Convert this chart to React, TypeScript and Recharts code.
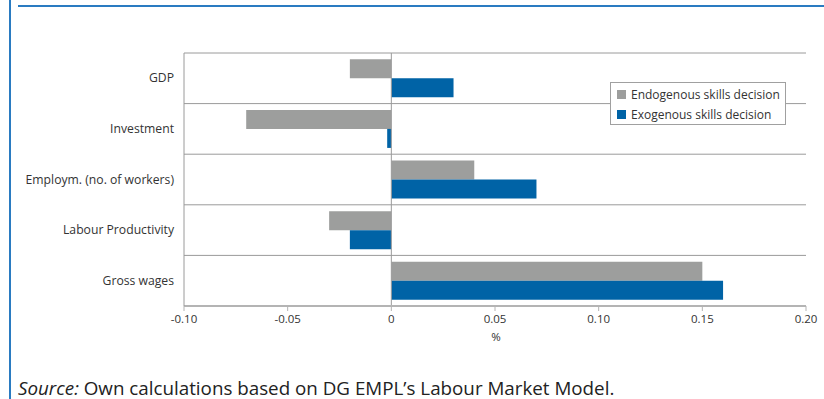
import React from "react";
import {
  BarChart,
  Bar,
  XAxis,
  YAxis,
  CartesianGrid,
  ReferenceLine,
  Legend,
} from "recharts";

const categories = [
  "GDP",
  "Investment",
  "Employm. (no. of workers)",
  "Labour Productivity",
  "Gross wages",
];
const endogenous = [-0.02, -0.07, 0.04, -0.03, 0.15];
const exogenous = [0.03, -0.002, 0.07, -0.02, 0.16];
const xTicks = [-0.1, -0.05, 0, 0.05, 0.1, 0.15, 0.2];
const xTickLabels = ["-0.10", "-0.05", "0", "0.05", "0.10", "0.15", "0.20"];

const seriesNames = ["Endogenous skills decision", "Exogenous skills decision"];
const GREY = "#9d9e9d";
const BLUE = "#0063a6";
const FONT = "'Open Sans', sans-serif";

const data = categories.map((c, i) => ({
  name: c,
  endo: endogenous[i],
  exo: exogenous[i],
}));

// grid lines sit on the boundaries between category bands
const categoryBoundaries = ({ offset }: any) =>
  Array.from(
    { length: categories.length + 1 },
    (_, i) => offset.top + (i * offset.height) / categories.length
  );

const LegendBox = () => (
  <div
    style={{
      border: "1px solid #a0a0a0",
      background: "#fff",
      width: 174,
      height: 41,
      boxSizing: "content-box",
      fontFamily: FONT,
      fontSize: 12,
      color: "#333",
    }}
  >
    {[GREY, BLUE].map((col, i) => (
      <div
        key={i}
        style={{
          display: "flex",
          alignItems: "center",
          height: 20,
          marginTop: i === 0 ? 1 : 0,
          paddingLeft: 6,
        }}
      >
        <span
          style={{
            display: "inline-block",
            width: 9,
            height: 9,
            background: col,
            marginRight: 5,
          }}
        />
        <span>{seriesNames[i]}</span>
      </div>
    ))}
  </div>
);

const XTick = (props: any) => {
  const { x, y, payload } = props;
  const idx = xTicks.indexOf(payload.value);
  return (
    <text
      x={x}
      y={y + 10}
      textAnchor="middle"
      fontFamily={FONT}
      fontSize={11.5}
      fill="#333"
    >
      {idx >= 0 ? xTickLabels[idx] : payload.value}
    </text>
  );
};

const YTick = (props: any) => {
  const { x, y, payload } = props;
  return (
    <text
      x={x - 2}
      y={y + 4}
      textAnchor="end"
      fontFamily={FONT}
      fontSize={12.2}
      fill="#333"
    >
      {payload.value}
    </text>
  );
};

const XLabel = (props: any) => {
  const { viewBox } = props;
  return (
    <text
      x={viewBox.x + viewBox.width / 2 + 1}
      y={viewBox.y + 35}
      textAnchor="middle"
      fontFamily={FONT}
      fontSize={11.5}
      fill="#333"
    >
      %
    </text>
  );
};

export default function App() {
  return (
    <div
      style={{
        position: "absolute",
        left: 0,
        top: 0,
        width: 824,
        height: 399,
        background: "#fff",
        overflow: "hidden",
      }}
    >
      <div
        style={{
          position: "absolute",
          left: 9,
          top: 0,
          width: 2,
          height: 399,
          background: "#2a7bc1",
        }}
      />
      <div
        style={{
          position: "absolute",
          left: 18,
          top: 5,
          width: 806,
          height: 2,
          background: "#2a7bc1",
        }}
      />
      <BarChart
        width={824}
        height={399}
        data={data}
        layout="vertical"
        margin={{ top: 53, right: 18, bottom: 63, left: 0 }}
        barCategoryGap="12.5%"
        barGap={0}
      >
        <CartesianGrid
          vertical={false}
          horizontalCoordinatesGenerator={categoryBoundaries}
          stroke="#9a9a9a"
          strokeWidth={1}
        />
        <XAxis
          type="number"
          domain={[-0.1, 0.2]}
          ticks={xTicks}
          interval={0}
          height={30}
          axisLine={{ stroke: "#b4b4b4", strokeWidth: 2 }}
          tickLine={{ stroke: "#b4b4b4", strokeWidth: 1 }}
          tickSize={5}
          tick={<XTick />}
          label={<XLabel />}
        />
        <YAxis
          type="category"
          dataKey="name"
          width={184}
          axisLine={{ stroke: "#9a9a9a" }}
          tickLine={false}
          tick={<YTick />}
          interval={0}
        />
        <ReferenceLine x={0} stroke="#9a9a9a" strokeWidth={1} />
        <Bar
          dataKey="endo"
          name={seriesNames[0]}
          fill={GREY}
          isAnimationActive={false}
        />
        <Bar
          dataKey="exo"
          name={seriesNames[1]}
          fill={BLUE}
          isAnimationActive={false}
        />
        <Legend
          layout="horizontal"
          verticalAlign="middle"
          align="center"
          content={<LegendBox />}
          wrapperStyle={{ left: 610, top: 82, width: 176, height: 43 }}
        />
      </BarChart>
      <div
        style={{
          position: "absolute",
          left: 18,
          top: 377,
          height: 22,
          fontFamily: FONT,
          fontSize: 18.8,
          color: "#222",
          whiteSpace: "nowrap",
          lineHeight: "22px",
        }}
      >
        <i>Source:</i> Own calculations based on DG EMPL’s Labour Market Model.
      </div>
    </div>
  );
}
